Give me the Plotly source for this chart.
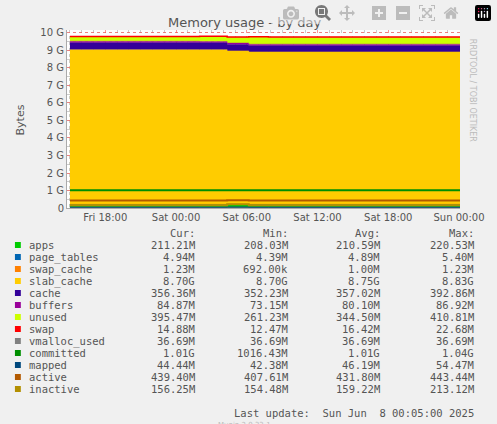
import plotly.graph_objects as go

times = ["2025-06-06 15:00", "2025-06-07 02:00", "2025-06-07 04:20", "2025-06-07 06:10",
         "2025-06-07 07:50", "2025-06-08 00:05"]
apps = [209e6, 209e6, 220e6, 211e6, 211e6, 211e6]
page_tables = [4.9e6, 4.8e6, 5.4e6, 4.9e6, 4.9e6, 4.94e6]
swap_cache = [1.0e6, 1.0e6, 1.2e6, 1.0e6, 1.0e6, 1.23e6]
slab_cache = [8.83e9, 8.83e9, 8.75e9, 8.70e9, 8.70e9, 8.70e9]
cache = [392e6, 392e6, 360e6, 352e6, 356e6, 356e6]
buffers = [87e6, 75e6, 86e6, 85e6, 85e6, 85e6]
unused = [265e6, 280e6, 330e6, 410e6, 395e6, 395e6]
swap = [15e6, 15e6, 22e6, 16e6, 15e6, 14.9e6]
vmalloc_used = [36.69e6] * 6
committed = [1.01e9, 1.01e9, 1.02e9, 1.01e9, 1.01e9, 1.01e9]
mapped = [46e6, 46e6, 54e6, 45e6, 45e6, 44.4e6]
active = [430e6, 430e6, 443e6, 430e6, 430e6, 439e6]
inactive = [156e6, 156e6, 213e6, 158e6, 158e6, 156e6]

stack_names = ["apps", "page_tables", "swap_cache", "slab_cache", "cache", "buffers", "unused", "swap"]
stack_vals = [apps, page_tables, swap_cache, slab_cache, cache, buffers, unused, swap]
line_names = ["vmalloc_used", "committed", "mapped", "active", "inactive"]
line_vals = [vmalloc_used, committed, mapped, active, inactive]
colors = {"apps": "#00CC00", "page_tables": "#0066B3", "swap_cache": "#FF8000", "slab_cache": "#FFCC00",
          "cache": "#330099", "buffers": "#990099", "unused": "#CCFF00", "swap": "#FF0000",
          "vmalloc_used": "#808080", "committed": "#008F00", "mapped": "#00487D",
          "active": "#B35A00", "inactive": "#B38F00"}

legend_rows = [
    ("apps", "211.21M", "208.03M", "210.59M", "220.53M"),
    ("page_tables", "4.94M", "4.39M", "4.89M", "5.40M"),
    ("swap_cache", "1.23M", "692.00k", "1.00M", "1.23M"),
    ("slab_cache", "8.70G", "8.70G", "8.75G", "8.83G"),
    ("cache", "356.36M", "352.23M", "357.02M", "392.86M"),
    ("buffers", "84.87M", "73.15M", "80.10M", "86.92M"),
    ("unused", "395.47M", "261.23M", "344.50M", "410.81M"),
    ("swap", "14.88M", "12.47M", "16.42M", "22.68M"),
    ("vmalloc_used", "36.69M", "36.69M", "36.69M", "36.69M"),
    ("committed", "1.01G", "1016.43M", "1.01G", "1.04G"),
    ("mapped", "44.44M", "42.38M", "46.19M", "54.47M"),
    ("active", "439.40M", "407.61M", "431.80M", "443.44M"),
    ("inactive", "156.25M", "154.48M", "159.22M", "213.12M"),
]
ytick_vals = [i * 1e9 for i in range(11)]
ytick_text = ["0"] + [f"{i} G" for i in range(1, 11)]

fig = go.Figure()
for n, v in zip(stack_names, stack_vals):
    fig.add_trace(go.Scatter(x=times, y=v, name=n, stackgroup="s", mode="lines",
                             line=dict(shape="hv", width=0.5 if n != "swap" else 1.5, color=colors[n]),
                             fillcolor=colors[n]))
for n, v in zip(line_names, line_vals):
    fig.add_trace(go.Scatter(x=times, y=v, name=n, mode="lines",
                             line=dict(shape="hv", width=2 if n in ("committed", "active", "inactive") else 1,
                                       color=colors[n])))

L, R, T, B = 67, 467, 30, 208
W, H = R - L, B - T
def px(x): return (x - L) / W
def py(y): return (B - y) / H

mono = "DejaVu Sans Mono"
ann = []
hdr_y = 233
for text, xr in [("Cur:", 199), ("Min:", 294), ("Avg:", 388), ("Max:", 483)]:
    ann.append(dict(x=px(xr), y=py(hdr_y), text=text, xanchor="right"))
shapes = []
for i, row in enumerate(legend_rows):
    yy = hdr_y + 12 * (i + 1)
    shapes.append(dict(type="rect", xref="paper", yref="paper", x0=px(14), x1=px(20),
                       y0=py(yy + 3), y1=py(yy - 3), fillcolor=colors[row[0]], line=dict(width=0)))
    ann.append(dict(x=px(26), y=py(yy), text=row[0], xanchor="left"))
    for val, xr in zip(row[1:], [199, 294, 388, 483]):
        ann.append(dict(x=px(xr), y=py(yy), text=val, xanchor="right"))
ann.append(dict(x=px(483), y=py(401 + 12), text="Last update:  Sun Jun  8 00:05:00 2025", xanchor="right"))
for a in ann:
    a.update(xref="paper", yref="paper", yanchor="middle", showarrow=False,
             font=dict(family=mono, size=10.5, color="#555555"))
ann.append(dict(x=px(248), y=py(413 + 12), xref="paper", yref="paper", text="Munin 2.0.33-1",
                yanchor="middle", showarrow=False, font=dict(family="DejaVu Sans", size=7, color="#BBBBBB")))
ann.append(dict(x=px(487), y=py(90), xref="paper", yref="paper", text="RRDTOOL / TOBI OETIKER",
                textangle=90, showarrow=False, font=dict(family="DejaVu Sans", size=8, color="#BBBBBB")))
ann.append(dict(x=px(11), y=py(120), xref="paper", yref="paper", text="Bytes", textangle=-90,
                showarrow=False, font=dict(family="DejaVu Sans", size=11, color="#555555")))
ann.append(dict(x=px(248), y=py(13), xref="paper", yref="paper", text="Memory usage - by day",
                showarrow=False, font=dict(family="DejaVu Sans", size=13, color="#555555")))

fig.update_layout(
    width=497, height=424, margin=dict(l=L, r=497 - R, t=T, b=424 - B),
    paper_bgcolor="#F0F0F0", plot_bgcolor="#FFFFFF", showlegend=False,
    annotations=ann, shapes=shapes,
    font=dict(family="DejaVu Sans", size=10, color="#555555"),
    xaxis=dict(range=["2025-06-06 14:45", "2025-06-08 00:05"], tickformat="%a %H:%M",
               dtick=6 * 3600 * 1000, tick0="2025-06-06 18:00",
               showgrid=True, gridcolor="rgba(255,80,80,0.6)", griddash="dot", gridwidth=1,
               minor=dict(dtick=3600 * 1000, showgrid=True, gridcolor="rgba(170,170,170,0.6)", griddash="dot"),
               ticks="", showline=True, linecolor="#AAAAAA", zeroline=False),
    yaxis=dict(range=[0, 10.17e9], tickvals=ytick_vals, ticktext=ytick_text,
               showgrid=True, gridcolor="rgba(255,80,80,0.6)", griddash="dot", gridwidth=1,
               minor=dict(dtick=0.5e9, showgrid=True, gridcolor="rgba(170,170,170,0.6)", griddash="dot"),
               ticks="", showline=True, linecolor="#AAAAAA", zeroline=False),
)
fig.write_html("out.html", post_script="document.body.style.margin='0';document.body.style.overflow='hidden';")
